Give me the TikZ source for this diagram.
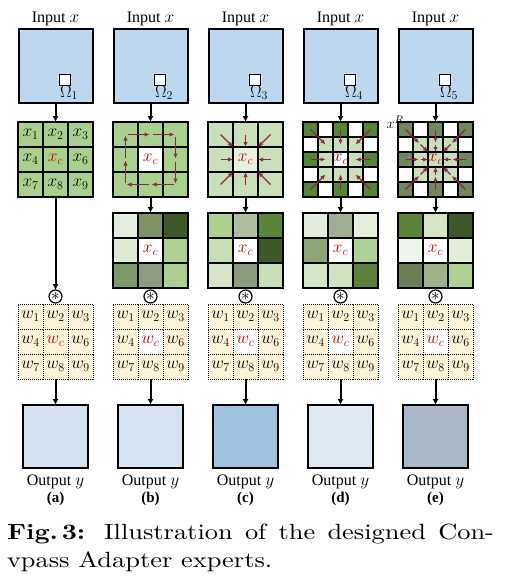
\documentclass[tikz,border=0pt]{standalone}
\usepackage{fontspec}
\newfontfamily\labfont{Liberation Serif}
\newfontfamily\capfont{lmroman10-regular.otf}[BoldFont=lmroman10-bold.otf,FakeStretch=1.2]
\usepackage{tikz}
\usetikzlibrary{positioning}
\usetikzlibrary{calc}
\usetikzlibrary{arrows.meta}
\definecolor{inblue}{HTML}{BDD7EE}
\definecolor{gridgreen}{HTML}{A9D18E}
\definecolor{lightgreen}{HTML}{C9E0B8}
\definecolor{palegreen}{HTML}{E6F1DE}
\definecolor{darkgreen}{HTML}{568537}
\definecolor{sagegreen}{HTML}{71885E}
\definecolor{wfill}{HTML}{FFF3D9}
\definecolor{walkred}{HTML}{8E2546}
\definecolor{textred}{HTML}{C00000}

\begin{document}
\begin{tikzpicture}[x=1pt,y=-1pt,
	every node/.style={outer sep=0pt},
	box/.style={draw,line width=2pt,inner sep=0pt,minimum size=74pt},
	frame/.style={inner sep=0pt,minimum size=75pt},
	cell/.style={draw,line width=1.5pt,inner sep=0pt,minimum size=25pt,font=\fontsize{18}{18}\selectfont},
	subcell/.style={draw,line width=1.2pt,inner sep=0pt,minimum size=15pt,font=\fontsize{17}{17}\selectfont},
	wcell/.style={draw,densely dotted,line width=1pt,inner sep=0pt,minimum size=25pt,font=\fontsize{18}{18}\selectfont},
	slot/.style 2 args={at={($(#1.north west)+({12.5+25*mod(#2,3)},{12.5+25*div(#2,3)})$)}},
	subslot/.style n args={3}{at={($(#1.north west)+({15*#3-7.5},{15*#2-7.5})$)}},
	lab/.style={inner sep=0pt,font=\labfont\fontsize{16}{16}\selectfont},
	flow/.style={-{Latex[length=6pt,width=6pt]},line width=2pt},
	walk/.style={-{Latex[length=5pt,width=4.5pt]},line width=1.2pt,walkred},
	]
	\useasboundingbox (0,0) rectangle (511,578);
	% Level 1: inputs, windows, weights and outputs of every expert
	\foreach \c/\px/\k/\out/\wm/\lt in {A/55.5/1/D3E1F1/wfill/a,B/150.5/2/D5E3F2/white/b,C/245.5/3/A2C2E2/white/c,D/340.5/4/DFE9F4/white/d,E/435.5/5/ABB8C9/white/e}{
		\node[box,fill=inblue] at (\px,66) (in\c) {};
		\node[lab,above=3pt of in\c] (inlab\c) {Input $x$};
		\node[draw,fill=white,line width=1pt,inner sep=0pt,minimum size=11pt] at ($(in\c.center)+(9.5,14)$) (om\c) {};
		\node[inner sep=0pt,below=0pt of om\c,xshift=4pt,font=\fontsize{17}{17}\selectfont] (omlab\c) {$\Omega_{\k}$};
		\node[frame,below=19pt of in\c] (g\c) {};
		\draw[flow] (in\c) -- (g\c);
		% weights
		\node[frame] at (\px,341.5) (w\c) {};
		\foreach \t [count=\n from 0] in {w_1,w_2,w_3,w_4,\textcolor{textred}{w_c},w_6,w_7,w_8,w_9}{
			\def\wtone{wfill}
			\ifnum\n=4 \def\wtone{\wm}\fi
			\node[wcell,fill=\wtone,slot={w\c}{\n}] (w\c\n) {$\t$};}
		\node[circle,draw,line width=1.2pt,minimum size=13pt,inner sep=0pt,above=1pt of w\c,font=\fontsize{16}{16}\selectfont] (conv\c) {$\ast$};
		% output
		\definecolor{outtone}{HTML}{\out}
		\node[draw,line width=2pt,fill=outtone,inner sep=0pt,minimum width=65pt,minimum height=63pt,below=26pt of w\c] (out\c) {};
		\draw[flow] (w\c) -- (out\c);
		\node[lab,below=7pt of out\c] (outlab\c) {Output $y$};
		\node[lab,below=3pt of outlab\c,font=\labfont\bfseries\fontsize{15}{15}\selectfont] (tag\c) {(\lt)};
	}
	% Level 2: first grids
	% (a) plain 3x3 window
	\foreach \t [count=\n from 0] in {x_1,x_2,x_3,x_4,\textcolor{textred}{x_c},x_6,x_7,x_8,x_9}
		\node[cell,fill=gridgreen,slot={gA}{\n}] (gA\n) {$\t$};
	\draw[flow] (gA) -- (convA);
	% (b) walk round the centre
	\foreach \n in {0,...,8}
		\node[cell,fill=gridgreen,slot={gB}{\n}] (gB\n) {};
	\node[cell,fill=white] at (gB4) (cB) {$\textcolor{textred}{x_c}$};
	\foreach \a/\b in {0/1,1/2,2/5,5/8,8/7,7/6,6/3,3/0}
		\draw[walk,shorten <=2pt,shorten >=1pt] (gB\a.center) -- (gB\b.center);
	% (c) all neighbours into the centre
	\foreach \n in {0,...,8}
		\node[cell,fill=lightgreen,slot={gC}{\n}] (gC\n) {};
	\node[cell,fill=palegreen] at (gC4) (cC) {$\textcolor{textred}{x_c}$};
	\foreach \a/\b in {0/north west,1/north,2/north east,3/west,5/east,6/south west,7/south,8/south east}
		\draw[walk] (gC\a.center) -- (cC.\b);
	% (d) and (e) 5x5 windows
	\foreach \c/\dk in {D/darkgreen,E/sagegreen}
		\foreach \r in {1,...,5}
			\foreach \s in {1,...,5}{
				\def\tone{white}
				\ifodd\r\ifodd\s\def\tone{\dk}\fi\fi
				\ifnum\r>1 \ifnum\r<5 \ifnum\s>1 \ifnum\s<5 \def\tone{lightgreen}\fi\fi\fi\fi
				\node[subcell,fill=\tone,subslot={g\c}{\r}{\s}] (g\c\r\s) {};}
	\node[subcell,fill=white] at (gD33) (cD) {$\textcolor{textred}{x_c}$};
	\node[subcell,fill=lightgreen] at (gE33) (cE) {};
	\foreach \a/\b in {11/22,13/23,15/24,31/32,35/34,51/42,53/43,55/44}{
		\draw[walk] (gD\a.center) -- (gD\b.center);
		\draw[walk,shorten >=2pt] (gE\a.center) -- (gE\b.center);}
	\foreach \a/\b in {22/north west,23/north,24/north east,32/west,34/east,42/south west,43/south,44/south east}
		\draw[walk] (gE\a.center) -- (cE.\b);
	\node[inner sep=0pt,font=\fontsize{17}{17}\selectfont] at (cE) (xcE) {$\textcolor{textred}{x_c}$};
	\node[inner sep=0pt,font=\fontsize{15}{15}\selectfont] at ($(gE.north west)+(-3,0)$) (xR) {$x^R$};
	% Level 3: second grids
	\node[frame,below=16pt of gB] (hB) {};
	\foreach \h [count=\n from 0] in {E3EEDB,7D9466,3F5828,DDEBD5,FFFFFF,B0D196,7D9966,8F9C80,AECF92}{
		\definecolor{tone}{HTML}{\h}
		\node[cell,fill=tone,slot={hB}{\n}] (hB\n) {};}
	\node[frame,below=16pt of gC] (hC) {};
	\foreach \h [count=\n from 0] in {AED08F,ADBF9E,5A8238,C5E0B4,FFFFFF,3F5828,D5E6C8,8C9C7E,C8DFB8}{
		\definecolor{tone}{HTML}{\h}
		\node[cell,fill=tone,slot={hC}{\n}] (hC\n) {};}
	\node[frame,below=16pt of gD] (hD) {};
	\foreach \h [count=\n from 0] in {E2EDDA,A0AE93,E4EFDC,8DA676,FFFFFF,ADD195,D5E6C8,D0E3C2,5A8238}{
		\definecolor{tone}{HTML}{\h}
		\node[cell,fill=tone,slot={hD}{\n}] (hD\n) {};}
	\node[frame,below=16pt of gE] (hE) {};
	\foreach \h [count=\n from 0] in {5A8238,D4E6C6,3F5828,EEF5E9,FFFFFF,E2EEDA,6C7F55,9EB38A,ADD195}{
		\definecolor{tone}{HTML}{\h}
		\node[cell,fill=tone,slot={hE}{\n}] (hE\n) {};}
	\foreach \c in {B,C,D,E}{
		\node[inner sep=0pt,font=\fontsize{18}{18}\selectfont] at (h\c4) (hc\c) {$\textcolor{textred}{x_c}$};
		\draw[flow] (g\c) -- (h\c);}
	% Caption
	\node[anchor=north west,inner sep=0pt,text width=487pt,align=justify,font=\capfont\fontsize{22}{28}\selectfont] at (7,524) (caption)
		{\textbf{Fig.\,3:} Illustration of the designed Con-\linebreak vpass Adapter experts.};
\end{tikzpicture}
\end{document}
